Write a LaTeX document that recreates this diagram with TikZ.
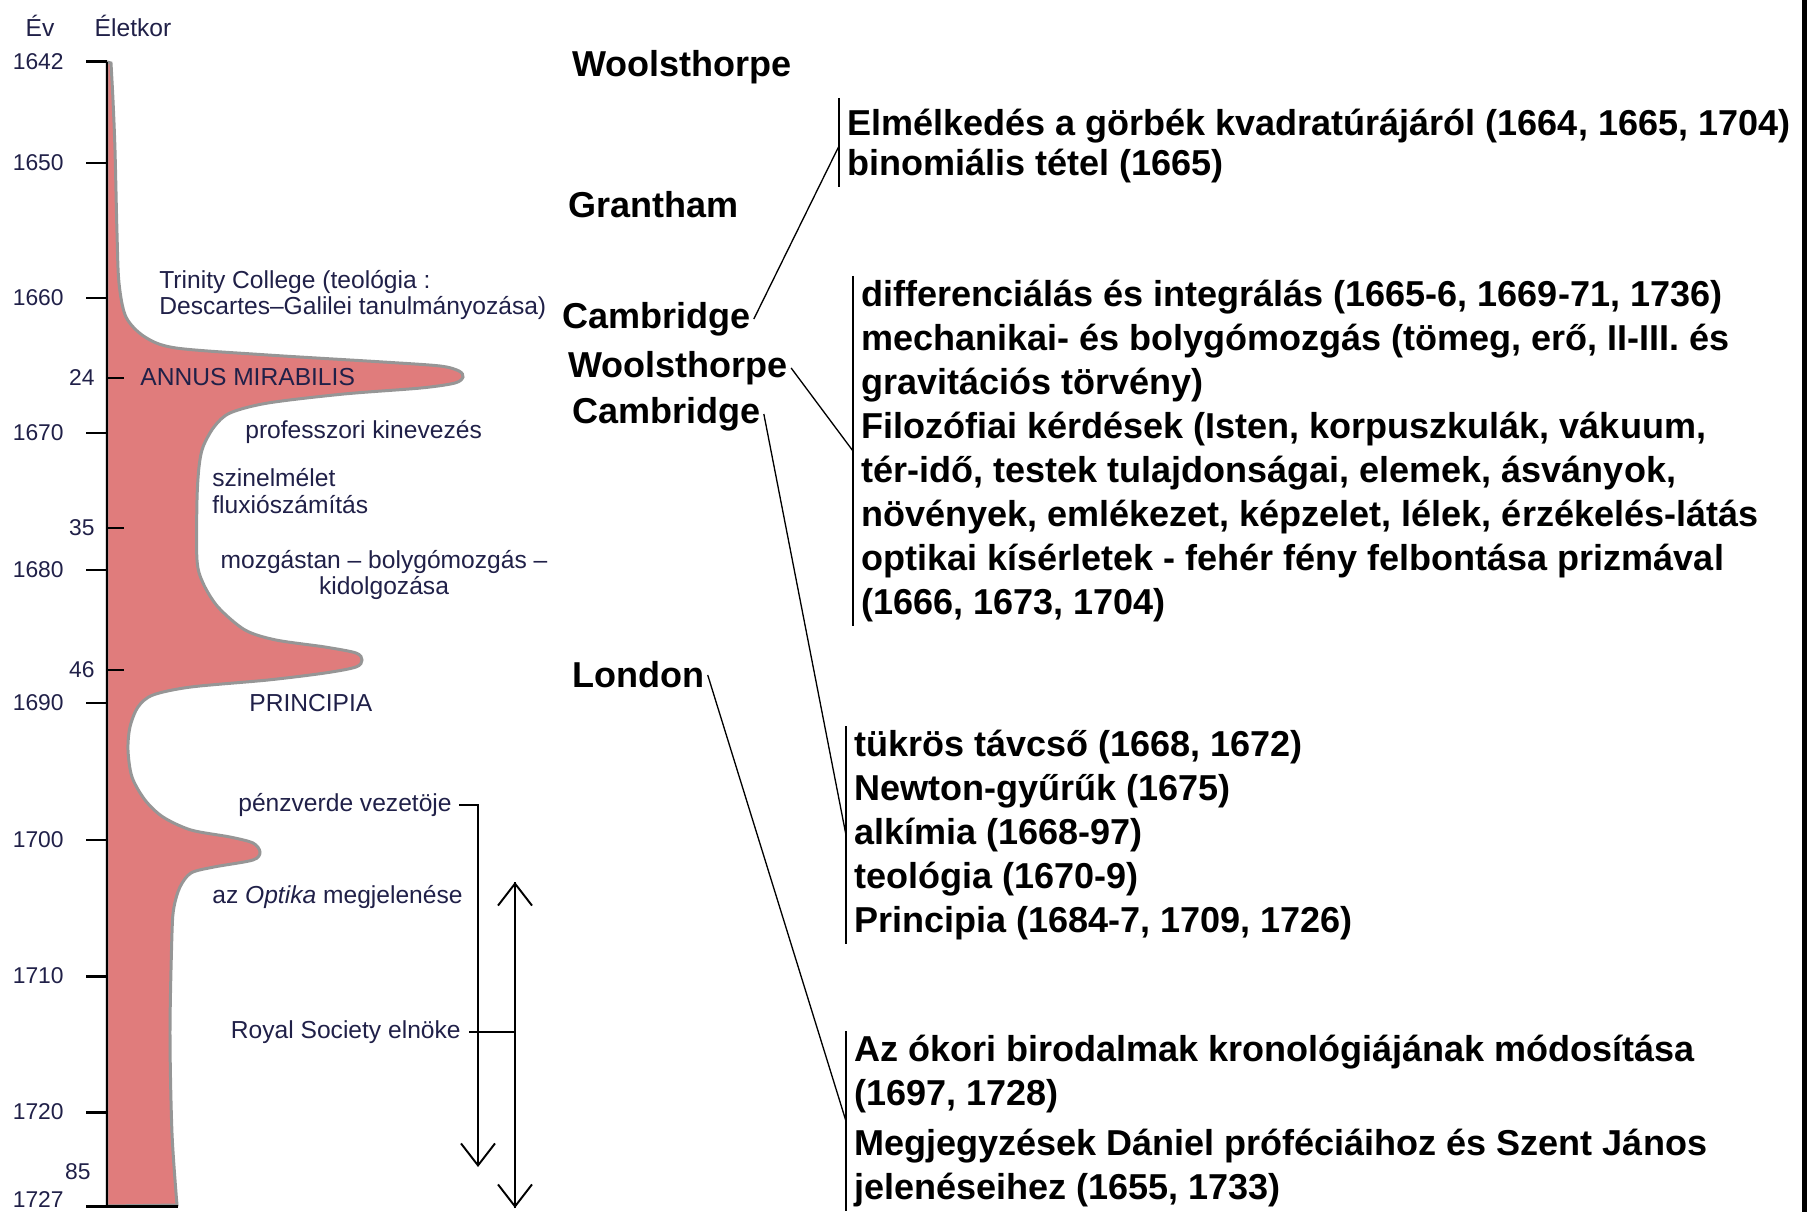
\documentclass[tikz,border=0pt]{standalone}
\usepackage{fontspec}
\setmainfont{Liberation Sans}
\usetikzlibrary{arrows.meta}

\definecolor{lifered}{RGB}{224,124,124}
\definecolor{lifeedge}{RGB}{150,150,150}
\definecolor{navy}{RGB}{32,32,72}

\begin{document}
\begin{tikzpicture}[x=0.02cm,y=-0.02cm,
	note/.style={inner sep=0pt,text=navy,font=\fontsize{14}{15}\selectfont},
	yearlbl/.style={inner sep=0pt,anchor=east,text=navy,font=\fontsize{13}{14}\selectfont},
	place/.style={inner xsep=0.06cm,inner ysep=0pt,anchor=west,font=\fontsize{20.5}{25}\selectfont\bfseries},
	block/.style={inner xsep=0.16cm,inner ysep=0.08cm,anchor=north west,align=left,font=\fontsize{20.5}{25}\selectfont\bfseries},
	axisline/.style={line width=1.7pt},
	bar/.style={line width=1.1pt},
	link/.style={line width=0.75pt},
	span/.style={line width=1.1pt},
	barb/.style={-{Straight Barb[length=0.44cm,width=0.68cm]}},
	]
	\useasboundingbox (0,0) rectangle (1807,1212);

	% Life curve
	\filldraw[fill=lifered,draw=lifeedge,line width=1.7pt] (107,62) -- plot[smooth,tension=0.5] coordinates {
		(111,63) (113,100) (115,150) (117,233) (119,283) (126,317) (145,337) (176,348)
		(268,355) (383,362) (440,366) (459,371) (463,377) (455,383) (421,388) (344,394)
		(268,403) (230,413) (214,427) (203,447) (199,467) (197,500) (197,560) (203,583)
		(218,607) (245,630) (276,640) (325,647) (356,653) (362,660) (356,667) (325,673)
		(268,680) (191,687) (153,695) (138,707) (130,727) (128,750) (132,777) (145,800)
		(163,817) (191,830) (230,837) (253,843) (260,852) (253,860) (214,867) (191,873)
		(180,887) (174,907) (172,933) (170,1033) (172,1133) (177,1205)} -- (107,1206) -- cycle;

	% Axis, years and ages
	\node[note] (ev) at (40,26) {Év};
	\node[note] (eletkor) at (133,26) {Életkor};
	\draw[axisline] (107,62) -- (107,1206);
	\foreach \yr/\yy in {1642/62,1650/163,1660/298,1670/433,1680/570,1690/703,1700/840,1710/976,1720/1112}{
		\draw[axisline] (86,\yy) -- (107,\yy);
		\node[yearlbl] (yr\yr) at (64,\yy) {\yr};
	}
	\draw[axisline] (86,1206) -- (178,1206);
	\node[yearlbl] (yr1727) at (64,1200) {1727};
	\foreach \age/\yy in {24/378,35/528,46/670}{
		\draw[axisline] (107,\yy) -- (124,\yy);
		\node[yearlbl] (age\age) at (95,\yy) {\age};
	}
	\node[yearlbl] (age85) at (91,1172) {85};

	% Events
	\node[note,anchor=west,align=left,font=\fontsize{14}{14.8}\selectfont] (trinity) at (159,295) {Trinity College (teológia :\\Descartes–Galilei tanulmányozása)};
	\node[note,anchor=west] (annus) at (140,377) {ANNUS MIRABILIS};
	\node[note,anchor=west] (prof) at (245,432) {professzori kinevezés};
	\node[note,anchor=west,align=left] (szin) at (212,491) {szinelmélet\\fluxiószámítás};
	\node[note,align=center,font=\fontsize{14}{14.8}\selectfont] (mozg) at (384,575) {mozgástan – bolygómozgás –\\kidolgozása};
	\node[note,anchor=west] (princ) at (249,703) {PRINCIPIA};
	\node[note,anchor=east] (penz) at (452,805) {pénzverde vezetöje};
	\node[note,anchor=west] (optika) at (212,897) {az \textit{Optika} megjelenése};
	\node[note,anchor=east] (royal) at (461,1032) {Royal Society elnöke};

	\coordinate (penzEnd) at (478,1167);
	\coordinate (presTop) at (515,882);
	\coordinate (presBot) at (515,1208);
	\draw[span,barb] ([xshift=0.14cm]penz.east) -| (penzEnd);
	\draw[span,barb] (presTop) -- (presBot);
	\draw[span,-{Straight Barb[length=0.44cm,width=0.68cm]}] (presBot) -- (presTop);
	\draw[span] ([xshift=0.16cm]royal.east) -- (royal.east -| presTop);

	% Places
	\node[place] (woolA) at (569,67) {Woolsthorpe};
	\node[place] (granth) at (565,205) {Grantham};
	\node[place] (cambA) at (559,319) {Cambridge};
	\node[place] (woolB) at (565,368) {Woolsthorpe};
	\node[place] (cambB) at (569,414) {Cambridge};
	\node[place] (london) at (569,675) {London};

	% Works
	\node[block,font=\fontsize{20.5}{22.4}\selectfont\bfseries] (blkA) at (839,105) {Elmélkedés a görbék kvadratúrájáról (1664, 1665, 1704)\\binomiális tétel (1665)};
	\node[block] (blkB) at (853,276) {differenciálás és integrálás (1665-6, 1669-71, 1736)\\
		mechanikai- és bolygómozgás (tömeg, erő, II-III. és\\
		gravitációs törvény)\\
		Filozófiai kérdések (Isten, korpuszkulák, vákuum,\\
		tér-idő, testek tulajdonságai, elemek, ásványok,\\
		növények, emlékezet, képzelet, lélek, érzékelés-látás\\
		optikai kísérletek - fehér fény felbontása prizmával\\
		(1666, 1673, 1704)};
	\node[block] (blkC) at (846,726) {tükrös távcső (1668, 1672)\\Newton-gyűrűk (1675)\\alkímia (1668-97)\\teológia (1670-9)\\Principia (1684-7, 1709, 1726)};
	\node[block] (blkD) at (846,1031) {Az ókori birodalmak kronológiájának módosítása\\(1697, 1728)\\[3.4pt]Megjegyzések Dániel próféciáihoz és Szent János\\jelenéseihez (1655, 1733)};

	\draw[bar] ([yshift=0.14cm]blkA.north west) -- (blkA.south west);
	\foreach \b in {blkB,blkC,blkD}
		\draw[bar] (\b.north west) -- (\b.south west);

	\draw[link] (cambA.east) -- (blkA.west);
	\draw[link] (woolB.east) -- (blkB.west);
	\draw[link] (cambB.east) -- (blkC.west);
	\draw[link] (london.east) -- (blkD.west);

	\fill (1802,0) rectangle (1807,1212);
\end{tikzpicture}
\end{document}
